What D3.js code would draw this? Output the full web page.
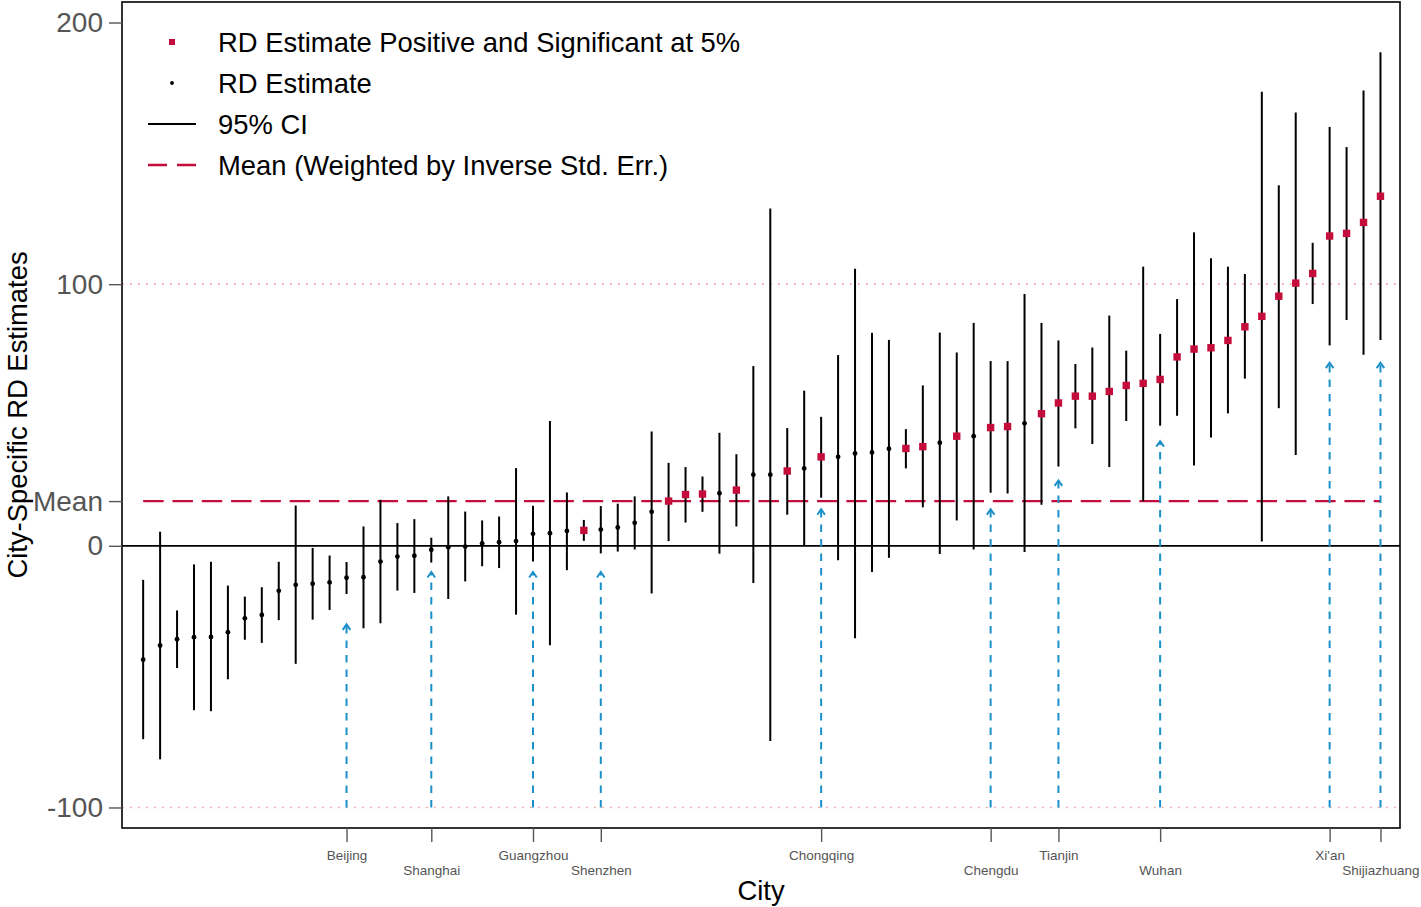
<!DOCTYPE html>
<html>
<head>
<meta charset="utf-8">
<script src="https://cdn.jsdelivr.net/npm/d3@7"></script>
<style>
  html, body { margin: 0; padding: 0; background: #ffffff; }
  svg { display: block; font-family: "Liberation Sans", Arial, Helvetica, sans-serif; }
</style>
</head>
<body>
<script>
// City-specific regression-discontinuity estimates, ranked from lowest to highest.
const estimate = [
  -43.5, -38.1, -35.7, -34.9, -34.8, -33.0, -27.7, -26.4, -17.2, -14.9,
  -14.5, -14.0, -12.2, -12.0, -6.0, -4.1, -3.8, -1.5, -0.5, -0.3,
  0.9, 1.4, 1.8, 4.6, 4.8, 5.7, 5.9, 6.2, 7.0, 8.8,
  13.0, 17.1, 19.6, 19.8, 20.1, 21.3, 27.2, 27.2, 28.6, 29.6,
  34.0, 34.0, 35.3, 35.7, 37.1, 37.2, 37.9, 39.4, 41.9, 41.9,
  45.2, 45.6, 46.8, 50.5, 54.6, 57.2, 57.2, 59.0, 61.3, 62.1,
  63.6, 72.2, 75.2, 75.7, 78.5, 83.7, 87.7, 95.4, 100.4, 104.1,
  118.4, 119.4, 123.6, 133.6
];
// Lower bound of the 95% confidence interval
const ciLow = [
  -73.9, -81.6, -46.7, -62.8, -63.2, -51.0, -35.9, -37.1, -28.4, -45.1,
  -28.2, -24.5, -18.4, -31.5, -29.6, -17.1, -18.0, -6.4, -20.3, -13.6,
  -7.8, -8.5, -26.3, -6.0, -38.0, -9.3, 1.9, -2.9, -2.2, -1.4,
  -18.2, 1.8, 8.9, 13.0, -3.0, 7.4, -14.2, -74.6, 11.9, 0.0,
  18.4, -5.5, -35.3, -10.0, -4.6, 29.6, 14.7, -3.1, 9.7, -1.4,
  20.3, 20.0, -2.4, 15.7, 30.3, 44.9, 38.9, 30.1, 47.7, 17.1,
  45.9, 49.7, 30.7, 41.4, 50.6, 63.9, 1.7, 52.6, 34.7, 92.4,
  76.6, 86.3, 73.0, 78.7
];
// Upper bound of the 95% confidence interval
const ciHigh = [
  -13.0, 5.4, -24.7, -7.1, -6.1, -15.2, -19.4, -15.8, -6.1, 15.4,
  -0.8, -3.7, -6.2, 7.4, 17.6, 8.7, 10.2, 3.1, 18.9, 13.1,
  9.7, 11.2, 29.7, 15.3, 47.7, 20.4, 9.9, 15.2, 16.1, 18.9,
  43.7, 31.7, 30.1, 26.5, 43.2, 35.0, 68.7, 128.9, 45.0, 59.3,
  49.3, 72.9, 105.9, 81.4, 78.7, 44.6, 61.3, 81.5, 73.9, 85.2,
  70.6, 70.6, 96.2, 85.2, 78.5, 69.5, 75.8, 88.0, 74.6, 106.7,
  81.0, 94.3, 119.8, 109.9, 106.7, 103.9, 173.5, 137.8, 165.6, 115.8,
  160.1, 152.4, 174.0, 188.6
];
const meanEstimate = 17.1;

// Highlighted cities: rank position, name, and where the pointer arrow stops
const cityNames = ["Beijing", "Shanghai", "Guangzhou", "Shenzhen", "Chongqing",
                   "Chengdu", "Tianjin", "Wuhan", "Xi'an", "Shijiazhuang"];
const cityRanks = [13, 18, 24, 28, 41, 51, 55, 61, 71, 74];
const arrowTips = [-30, -10, -10, -10, 14, 14, 25, 40, 70, 70];

const yTickValues = [-100, 0, meanEstimate, 100, 200];
const refLines = [-100, 100];

const legendLabels = [
  "RD Estimate Positive and Significant at 5%",
  "RD Estimate",
  "95% CI",
  "Mean (Weighted by Inverse Std. Err.)"
];

const ranks = estimate.map((_, i) => i + 1);
const rows = ranks.map((r, i) => ({
  rank: r, est: estimate[i], lo: ciLow[i], hi: ciHigh[i], sig: ciLow[i] > 0
}));

const W = 1421, H = 907;
const panel = { left: 122, right: 1400, top: 2, bottom: 828 };
const RED = "#c50d3c", BLUE = "#1b90c9";
const TEXT_SIZE = "27.4px";

const svg = d3.select("body").append("svg").attr("width", W).attr("height", H);
svg.append("rect").attr("width", W).attr("height", H).attr("fill", "#fff");

const x = d3.scalePoint().domain(ranks).range([panel.left, panel.right]).padding(1.2).align(0.52);
const y = d3.scaleLinear().domain([-107.84, 207.84]).range([panel.bottom, panel.top]);

const g = svg.append("g");

// dotted reference lines at +/-100
g.selectAll("line.ref").data(refLines).join("line")
  .attr("class", "ref")
  .attr("x1", panel.left).attr("x2", panel.right)
  .attr("y1", d => y(d)).attr("y2", d => y(d))
  .attr("stroke", "#f29a94").attr("stroke-width", 1.6)
  .attr("stroke-dasharray", "1.6 6.4");

// zero line
g.append("line")
  .attr("x1", panel.left).attr("x2", panel.right)
  .attr("y1", y(0)).attr("y2", y(0))
  .attr("stroke", "#000").attr("stroke-width", 1.6);

// weighted mean
g.append("line")
  .attr("x1", x(1)).attr("x2", x(ranks.length))
  .attr("y1", y(meanEstimate)).attr("y2", y(meanEstimate))
  .attr("stroke", RED).attr("stroke-width", 2.4)
  .attr("stroke-dasharray", "20.5 8.8");

// pointer arrows for the named cities
const arrows = g.selectAll("g.arrow").data(cityRanks.map((r, i) => ({ rank: r, tip: arrowTips[i] })))
  .join("g").attr("class", "arrow");
arrows.append("line")
  .attr("x1", d => x(d.rank)).attr("x2", d => x(d.rank))
  .attr("y1", y(-100)).attr("y2", d => y(d.tip))
  .attr("stroke", BLUE).attr("stroke-width", 2)
  .attr("stroke-dasharray", "7.5 7");
arrows.append("path")
  .attr("d", d => {
    const cx = x(d.rank), ty = y(d.tip);
    return `M${cx - 3.8},${ty + 5.5} L${cx},${ty} L${cx + 3.8},${ty + 5.5}`;
  })
  .attr("fill", "none").attr("stroke", BLUE).attr("stroke-width", 2)
  .attr("stroke-linejoin", "miter");

// confidence intervals
g.selectAll("line.ci").data(rows).join("line")
  .attr("class", "ci")
  .attr("x1", d => x(d.rank)).attr("x2", d => x(d.rank))
  .attr("y1", d => y(d.lo)).attr("y2", d => y(d.hi))
  .attr("stroke", "#000").attr("stroke-width", 2);

// point estimates
g.selectAll("circle.pt").data(rows.filter(d => !d.sig)).join("circle")
  .attr("class", "pt")
  .attr("cx", d => x(d.rank)).attr("cy", d => y(d.est))
  .attr("r", 2.4).attr("fill", "#000");
const sq = 7.4;
g.selectAll("rect.sig").data(rows.filter(d => d.sig)).join("rect")
  .attr("class", "sig")
  .attr("x", d => x(d.rank) - sq / 2).attr("y", d => y(d.est) - sq / 2)
  .attr("width", sq).attr("height", sq).attr("fill", RED);

// panel border
svg.append("rect")
  .attr("x", panel.left).attr("y", panel.top)
  .attr("width", panel.right - panel.left).attr("height", panel.bottom - panel.top)
  .attr("fill", "none").attr("stroke", "#000").attr("stroke-width", 1.6);

// y axis
const yAxis = svg.append("g").attr("transform", `translate(${panel.left},0)`)
  .call(d3.axisLeft(y).tickValues(yTickValues)
    .tickFormat(d => d === meanEstimate ? "Mean" : String(d))
    .tickSize(13).tickPadding(6));
yAxis.select(".domain").remove();
yAxis.selectAll(".tick line").attr("stroke", "#555").attr("stroke-width", 1.4);
yAxis.selectAll(".tick text").attr("fill", "#555").style("font-size", "28px")
  .attr("font-family", "Liberation Sans, Arial, sans-serif");

// x axis with staggered city names
const xAxis = svg.append("g").attr("transform", `translate(0,${panel.bottom})`)
  .call(d3.axisBottom(x).tickValues(cityRanks)
    .tickFormat(r => cityNames[cityRanks.indexOf(r)])
    .tickSize(14));
xAxis.select(".domain").remove();
xAxis.selectAll(".tick line").attr("stroke", "#555").attr("stroke-width", 1.4);
xAxis.selectAll(".tick text")
  .attr("fill", "#555").style("font-size", "13.5px")
  .attr("font-family", "Liberation Sans, Arial, sans-serif")
  .attr("y", (d, i) => i % 2 === 0 ? 22 : 37);

// axis titles
svg.append("text")
  .attr("x", (panel.left + panel.right) / 2).attr("y", 900)
  .attr("text-anchor", "middle").style("font-size", TEXT_SIZE).attr("fill", "#000")
  .text("City");
svg.append("text")
  .attr("transform", `translate(27,${(panel.top + panel.bottom) / 2}) rotate(-90)`)
  .attr("text-anchor", "middle").style("font-size", TEXT_SIZE).attr("fill", "#000")
  .text("City-Specific RD Estimates");

// legend
const legY = d3.scalePoint().domain(legendLabels).range([42, 165]);
const keyX = 172;
const leg = svg.append("g");
leg.append("rect")
  .attr("x", keyX - 3).attr("y", legY(legendLabels[0]) - 3)
  .attr("width", 6).attr("height", 6).attr("fill", RED);
leg.append("circle")
  .attr("cx", keyX).attr("cy", legY(legendLabels[1])).attr("r", 1.9).attr("fill", "#000");
leg.append("line")
  .attr("x1", keyX - 24).attr("x2", keyX + 24)
  .attr("y1", legY(legendLabels[2])).attr("y2", legY(legendLabels[2]))
  .attr("stroke", "#000").attr("stroke-width", 2);
leg.append("line")
  .attr("x1", keyX - 24).attr("x2", keyX + 24)
  .attr("y1", legY(legendLabels[3])).attr("y2", legY(legendLabels[3]))
  .attr("stroke", RED).attr("stroke-width", 2.4)
  .attr("stroke-dasharray", "19 10");
leg.selectAll("text").data(legendLabels).join("text")
  .attr("x", 218).attr("y", d => legY(d) + 9.8)
  .style("font-size", TEXT_SIZE).attr("fill", "#000")
  .text(d => d);
</script>
</body>
</html>
